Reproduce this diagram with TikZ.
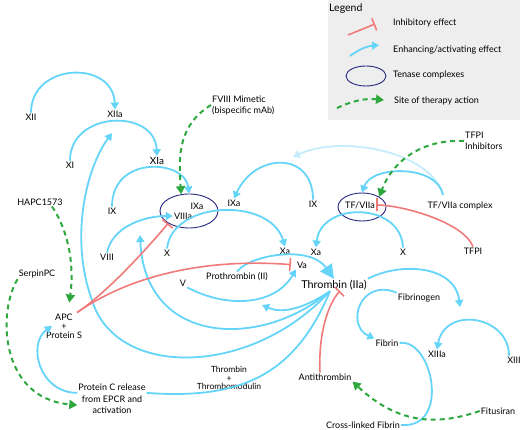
\documentclass[tikz,border=0pt]{standalone}
\usepackage{fontspec}
\setmainfont{Lato}
\usetikzlibrary{arrows.meta,shapes.geometric}
\definecolor{ciel}{RGB}{100,212,248}
\definecolor{cielpale}{RGB}{196,236,250}
\definecolor{rouge}{RGB}{240,122,122}
\definecolor{vert}{RGB}{46,168,62}
\definecolor{marine}{RGB}{38,38,128}
\definecolor{fond}{RGB}{238,238,238}

\begin{document}
\begin{tikzpicture}[x=1pt,y=-1pt,font=\fontsize{9}{10}\selectfont,
	lbl/.style={inner sep=1pt,align=center},
	act/.style={ciel,line width=1.8pt,-{Triangle[length=7pt,width=8pt]}},
	inh/.style={rouge,line width=1.6pt,-{Bar[width=13pt]}},
	ther/.style={vert,line width=2pt,dash pattern=on 5pt off 4pt,-{Triangle[length=8pt,width=9pt]}},
	tenase/.style={draw=marine,line width=0.9pt,ellipse,inner sep=0pt}]
					\useasboundingbox (0,0) rectangle (520,430);
					
					\fill[fond] (328,0) rectangle (520,120);
					\node[anchor=west,inner sep=1pt,font=\fontsize{10.5}{12}\selectfont] (leg) at (328,9) {Legend};
					\draw[inh] (348,35) -- (375,24);
					\node[lbl,anchor=west] (leginh) at (392,23) {Inhibitory effect};
					\draw[act] (350,56) to[bend left=15] (379,45);
					\node[lbl,anchor=west] (legact) at (392,50) {Enhancing/activating effect};
					\node[tenase,minimum width=40pt,minimum height=20pt] (legten) at (366,76) {};
					\node[lbl,anchor=west] (legtenl) at (392,75) {Tenase complexes};
					\draw[ther] (337,108) to[bend left=15] (384,100);
					\node[lbl,anchor=west] (legther) at (393,101) {Site of therapy action};
					
					\node[tenase,minimum width=58pt,minimum height=34pt] (ten1) at (189,211) {};
					\node[tenase,minimum width=48pt,minimum height=28pt] (ten2) at (362,207) {};
					
					\node[lbl] (xii) at (31,117) {XII};
					\node[lbl] (xiia) at (115,114) {XIIa};
					\node[lbl] (xi) at (70,165) {XI};
					\node[lbl,font=\fontsize{10}{11}\selectfont] (xia) at (157,161) {XIa};
					\node[lbl] (ixl) at (112,211) {IX};
					\node[lbl] (ixa1) at (197,206) {IXa};
					\node[lbl] (viiia) at (183,216) {VIIIa};
					\node[lbl] (ixa2) at (234,203) {IXa};
					\node[lbl] (viii) at (107,257) {VIII};
					\node[lbl] (xl) at (167,253) {X};
					\node[lbl] (ixr) at (313,204) {IX};
					\node[lbl] (tf) at (360,205) {TF/VIIa};
					\node[lbl] (tfc) at (460,206) {TF/VIIa complex};
					\node[lbl] (tfpi) at (473,251) {TFPI};
					\node[lbl,anchor=west,align=left,font=\fontsize{9}{11}\selectfont] (tfpiinh) at (464,141) {TFPI\\Inhibitors};
					\node[lbl] (xal) at (285,251) {Xa};
					\node[lbl] (xar) at (316,252) {Xa};
					\node[lbl] (xr) at (403,252) {X};
					\node[lbl] (va) at (302,265) {Va};
					\node[lbl] (v) at (183,283) {V};
					\node[lbl] (prot) at (237,277) {Prothrombin (II)};
					\node[lbl,font=\fontsize{10.8}{12}\selectfont] (thr) at (334,285) {Thrombin (IIa)};
					\node[lbl] (fbg) at (419,298) {Fibrinogen};
					\node[lbl] (fib) at (387,343) {Fibrin};
					\node[lbl] (xiiia) at (437,354) {XIIIa};
					\node[lbl] (xiii) at (514,360) {XIII};
					\node[lbl] (anti) at (325,377) {Antithrombin};
					\node[lbl] (clf) at (363,425) {Cross-linked Fibrin};
					\node[lbl] (fit) at (498,411) {Fitusiran};
					\node[lbl,font=\fontsize{8.5}{8.5}\selectfont] (thm) at (229,378) {Thrombin\\+\\Thrombomodulin};
					\node[lbl,font=\fontsize{9}{11.5}\selectfont] (pcr) at (112,399) {Protein C release\\from EPCR and\\activation};
					\node[lbl,font=\fontsize{9}{9}\selectfont] (apc) at (64,326) {APC\\+\\Protein S};
					\node[lbl] (serp) at (37,274) {SerpinPC};
					\node[lbl] (hapc) at (40,202) {HAPC1573};
					\node[lbl,anchor=west,align=left,font=\fontsize{9}{11}\selectfont] (fviii) at (211,105) {FVIII Mimetic\\(bispecific mAb)};
					
					\coordinate (tfcsrc) at (443,195);
					\coordinate (ixtip) at (293,157);
					\coordinate (vtip) at (262,305);
					\coordinate (viiitip) at (140,235);
					\coordinate (xitip) at (112,133);
					\coordinate (xiiitip) at (460,307);
					
					\draw[act] (xii.north) .. controls +(0,-50) and +(-2,-50) .. (xiia.north);
					\draw[act] (xi.north) .. controls +(0,-50) and +(-2,-48) .. (xia.north);
					\draw[act] (ixl.north) .. controls +(0,-52) and +(-4,-34) .. (ten1.north);
					\draw[act] (ixr.north) .. controls +(0,-49) and +(21,-46) .. (ixa2.north);
					\draw[act] (viii.north) .. controls +(5,-25) and +(-30,0) .. (viiia.west);
					\draw[act] (xl.north) .. controls +(5,-48) and +(-15,-50) .. (xal.north);
					\draw[act] (xr.north) .. controls +(-2,-46) and +(5,-46) .. (xar.north);
					\draw[act,cielpale] (tfcsrc) .. controls +(-13,-45) and +(47,-22) .. (ixtip);
					\draw[act] (tfcsrc) .. controls +(-5,-30) and +(10,-28) .. (ten2.north);
					\draw[inh] (tfpi.north) .. controls +(-10,-25) and +(25,0) .. (tf.east);
					
					\draw[act,-{Triangle[length=14pt,width=14pt]}] (prot.north) .. controls +(13,-17) and +(-24,-34) .. (thr.north);
					\draw[act] (v.south east) .. controls +(42,22) and +(-20,35) .. (va.south west);
					\draw[act] ([xshift=-4pt]thr.south) .. controls +(-30,20) and +(18,8) .. (vtip);
					\draw[act] ([xshift=-4pt]thr.south) .. controls +(-70,59) and +(5,110) .. (viiitip);
					\draw[act] ([xshift=-4pt]thr.south) .. controls +(-80,87) and +(23,78) .. (92,300) .. controls +(-22,-60) and +(-27,37) .. (xitip);
					\draw[act,-] ([xshift=-4pt]thr.south) .. controls +(-35,84) and +(94,7) .. (pcr.10);
					\draw[act] (pcr.170) .. controls +(-38,0) and +(-25,18) .. ([xshift=7pt]apc.west);
					\draw[act] (thr.north east) .. controls +(32,-17) and +(-5,-42) .. (xiiitip);
					\draw[act] (fbg.north west) .. controls +(-37,-15) and +(-29,-13) .. (fib.north west);
					\draw[act] ([xshift=-5pt]xiii.north) .. controls +(0,-40) and +(8,-44) .. (xiiia.north);
					\draw[act,-] (fib.east) .. controls +(33,-5) and +(50,4) .. (clf.east);
					
					\draw[inh,shorten >=5pt] ([xshift=-6pt]apc.north east) .. controls +(53,-37) and +(-90,-7) .. (va.west);
					\draw[inh] ([xshift=-6pt]apc.north east) .. controls +(33,-22) and +(-15,18) .. (ten1.south west);
					\draw[inh] ([xshift=-5pt]anti.north) .. controls +(-2,-42) and +(-10,10) .. ([xshift=6pt]thr.south);
					
					\draw[ther] (tfpiinh.west) .. controls +(-43,-2) and +(13,-35) .. (ten2.north east);
					\draw[ther] (fviii.west) .. controls +(-32,20) and +(-3,-40) .. (ten1.115);
					\draw[ther,shorten >=10pt] ([xshift=12pt]hapc.south) .. controls +(18,27) and +(6,-45) .. ([xshift=4pt]apc.north);
					\draw[ther] (serp.south west) .. controls +(-20,32) and +(-78,-7) .. (pcr.190);
					\draw[ther] (fit.west) .. controls +(-41,14) and +(47,44) .. (anti.south east);
				\end{tikzpicture}
\end{document}
